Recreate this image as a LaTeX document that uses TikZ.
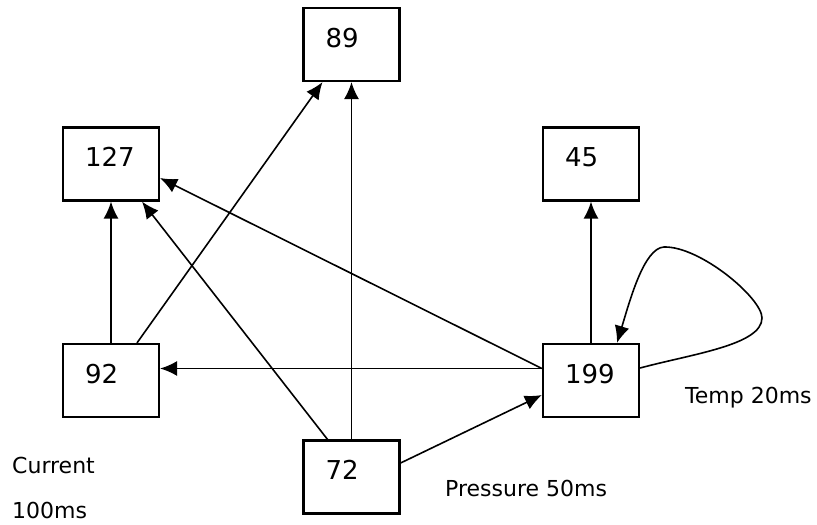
\documentclass[tikz,border=0pt]{standalone}
\usepackage{fontspec}
\setmainfont{DejaVu Sans}
\usetikzlibrary{arrows.meta}
\tikzset{>={Latex[length=17pt,width=15pt]}}
\tikzset{
  box/.style={draw, line width=2.2pt, minimum width=96pt, minimum height=73pt,
    text width=52pt, inner xsep=22pt, align=left,
    text height=19pt, text depth=14pt, font=\fontsize{26}{30}\selectfont},
  link/.style={->, line width=1.6pt},
  rate/.style={inner sep=0pt, anchor=base west, font=\fontsize{22}{26}\selectfont}
}

\begin{document}
\begin{tikzpicture}[x=1pt,y=-1pt]
\useasboundingbox (0,0) rectangle (817,525);
% the six readings
\node[box] (n89) at (351.5,44.5) {89};
\node[box] (n127) at (111,164) {127};
\node[box] (n45) at (591,164) {45};
\node[box] (n92) at (111,380.5) {92};
\node[box] (n199) at (591,380.5) {199};
\node[box] (n72) at (351.5,477) {72};
% links
\draw[link] (n92.north) -- (n127.south);
\draw[link] ([xshift=26pt]n92.north) -- ([xshift=-29pt]n89.south);
\draw[link] ([xshift=-24pt]n72.north) -- ([xshift=31pt]n127.south);
\draw[link] (n72.north) -- (n89.south);
\draw[link] ([yshift=14pt]n72.east) -- ([yshift=-14.5pt]n199.west);
\draw[link] ([yshift=12pt]n199.west) -- ([yshift=-14pt]n127.east);
\draw[link] ([yshift=12pt]n199.west) -- ([yshift=12pt]n92.east);
\draw[link] (n199.north) -- (n45.south);
%\draw[link] (n199) to[loop right] (n199);
\draw[link] ([yshift=12.5pt]n199.east) .. controls (692,354) and (762,345) .. (762,318)
  .. controls (762,298) and (700,246) .. (664,247)
  .. controls (644,248) and (630,300) .. ([xshift=26pt]n199.north);
% sampling periods
\node[rate] (temp) at (685,403) {Temp 20ms};
\node[rate] (pres) at (445,496) {Pressure 50ms};
\node[rate] (cur) at (12,473) {Current};
\node[rate] (curms) at (12,518) {100ms};
\end{tikzpicture}
\end{document}
